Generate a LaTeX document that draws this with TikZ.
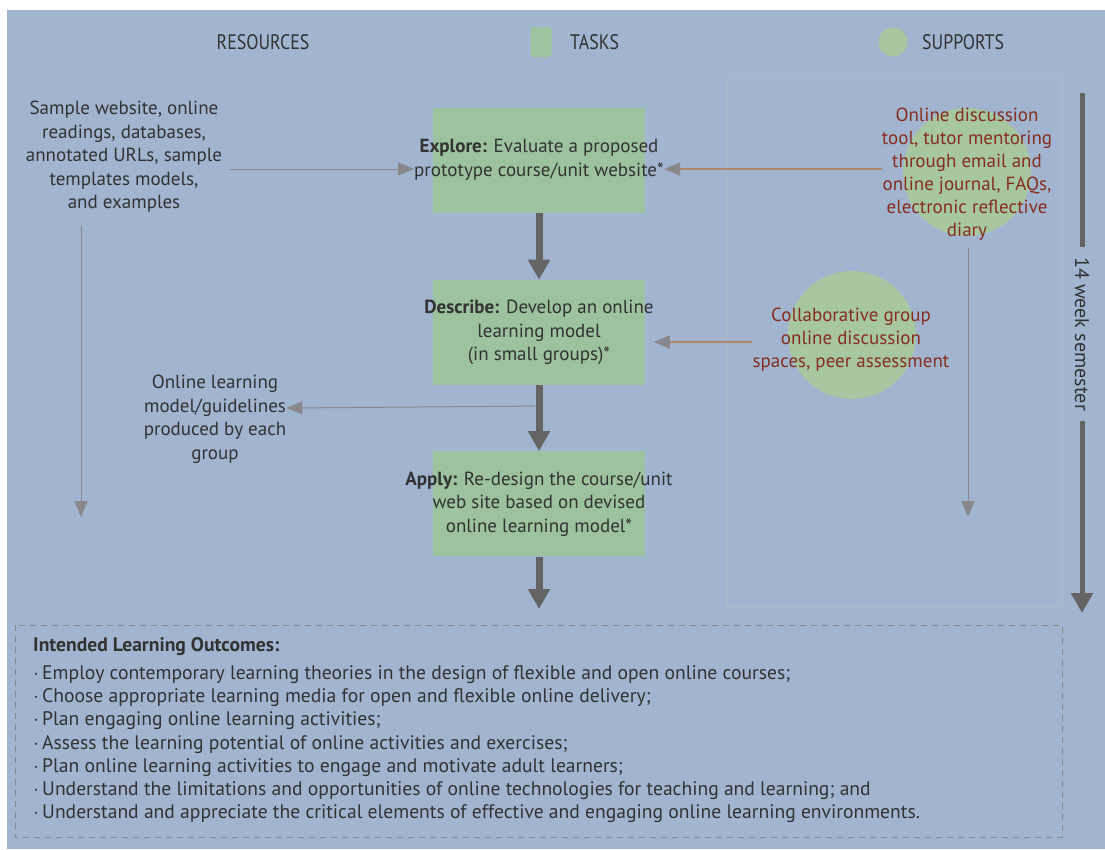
\documentclass[tikz,border=0pt]{standalone}
\usepackage{fontspec}
\setmainfont{PT Sans}
\newfontfamily\narrowfont[FakeStretch=0.85]{PT Sans}
\usetikzlibrary{positioning}
\usetikzlibrary{arrows.meta}
\usetikzlibrary{shapes}

\definecolor{bgblue}{RGB}{161,181,208}
\definecolor{taskgreen}{RGB}{157,195,158}
\definecolor{supgreen}{RGB}{166,199,160}
\definecolor{textdark}{RGB}{50,50,50}
\definecolor{suptext}{RGB}{135,45,30}
\definecolor{arrowdark}{RGB}{100,100,100}
\definecolor{arrowgray}{RGB}{135,135,140}
\definecolor{suparrow}{RGB}{175,135,110}
\definecolor{panelline}{RGB}{168,183,204}

\begin{document}
\begin{tikzpicture}[x=1pt,y=-1pt,
        txt/.style = {align=center,text=textdark,inner sep=0pt,
            font=\fontsize{19}{23.5}\selectfont},
        head/.style = {text=textdark,inner sep=0pt,
            font=\narrowfont\fontsize{21}{24}\selectfont},
        task/.style = {fill=taskgreen,minimum width=212pt,minimum height=105pt,
            inner sep=0pt},
        support/.style = {circle,fill=supgreen,minimum size=128pt,inner sep=0pt},
        suptxt/.style = {align=center,text=suptext,inner sep=0pt,
            font=\fontsize{19}{23}\selectfont},
        ilotxt/.style = {anchor=north west,align=left,text=textdark,inner sep=0pt,
            font=\fontsize{19.6}{23.3}\selectfont},
        flow/.style = {color=arrowdark,line width=7pt,
            -{Triangle[length=20pt,width=21pt]}},
        feed/.style = {color=arrowgray,line width=1pt,
            -{Triangle[length=16pt,width=13pt]}},
        supfeed/.style = {draw=suparrow,line width=1.2pt,
            -{Triangle[length=16pt,width=13pt,color=arrowgray]}}]
    \useasboundingbox (0,0) rectangle (1105,849);
    % background and frames
    \fill[bgblue] (7,10) rectangle (1105,849);
    \draw[panelline,line width=2.5pt] (727,78) rectangle (1062,607);
    \draw[arrowgray,line width=0.8pt,dash pattern=on 6pt off 5pt]
        (15,625) rectangle (1062,837);

    % header
    \node[head] (hres) at (263,42) {RESOURCES};
    \node[fill=taskgreen,rounded corners=3pt,minimum width=21pt,
        minimum height=30pt,inner sep=0pt] (ktask) at (541,42) {};
    \node[head,anchor=west] (htask) at (570,42) {TASKS};
    \node[circle,fill=supgreen,minimum size=29pt,inner sep=0pt] (ksup) at (893,42) {};
    \node[head,anchor=west] (hsup) at (922,42) {SUPPORTS};

    % tasks
    \node[task] (explore) at (539,160) {};
    \node[txt] (exploretxt) at (explore) {\textbf{Explore:} Evaluate a proposed\\
        prototype course/unit website*};
    \node[task,below=67pt of explore] (describe) {};
    \node[txt] (describetxt) at (describe) {\textbf{Describe:} Develop an online\\
        learning model\\ (in small groups)*};
    \node[task,below=66pt of describe] (apply) {};
    \node[txt] (applytxt) at (apply) {\textbf{Apply:} Re-design the course/unit\\
        web site based on devised\\ online learning model*};
    \coordinate (applyout) at (539,609);

    % resources
    \node[txt] (res) at (124,157) {Sample website, online\\ readings, databases,\\
        annotated URLs, sample\\ templates models,\\ and examples};
    \coordinate (resend) at (81,517);
    \node[txt] (model) at (215,419) {Online learning\\ model/guidelines\\
        produced by each\\ group};

    % supports
    \node[support] (sup1) at (967,172) {};
    \node[suptxt] (sup1txt) at (967,174) {Online discussion\\ tool, tutor mentoring\\
        through email and\\ online journal, FAQs,\\ electronic reflective\\ diary};
    \coordinate (supend) at (968,517);
    \node[support] (sup2) at (852,335) {};
    \node[suptxt] (sup2txt) at (851,340) {Collaborative group\\ online discussion\\
        spaces, peer assessment};

    % semester
    \node[txt,rotate=-90,font=\fontsize{20}{24}\selectfont] (sem) at (1082,334)
        {14 week semester};
    \coordinate (semtop) at (1082,93);
    \coordinate (semend) at (1082,613);

    % connectors
    \path[flow]
        (explore) edge (describe)
        (describe) edge (apply)
        (apply) edge (applyout);
    \draw[feed] (230,169) -- (exploretxt.west |- 0,169);
    \draw[feed] (res.south -| resend) ++(0,12) -- (resend);
    \draw[feed] (describe.south -| 535,0) ++(0,21) -- (model.east |- 0,408);
    \draw[supfeed] (sup1txt.west |- 0,169) -- (exploretxt.east |- 0,169);
    \draw[supfeed] (sup2txt.west |- 0,342) -- (describetxt.east |- 0,342);
    \draw[feed] (sup1txt.south -| supend) ++(0,8) -- (supend);
    \draw[color=arrowdark,line width=5pt] (semtop) -- ([yshift=10pt]sem.west);
    \draw[flow,line width=5pt] ([yshift=-10pt]sem.east) -- (semend);

    % outcomes
    \node[ilotxt] (ilohead) at (33,637) {\textbf{Intended Learning Outcomes:}};
    \node[ilotxt] (ilo) at (33,665)
        {$\cdot$\,Employ contemporary learning theories in the design of flexible and open online courses;\\
        $\cdot$\,Choose appropriate learning media for open and flexible online delivery;\\
        $\cdot$\,Plan engaging online learning activities;\\
        $\cdot$\,Assess the learning potential of online activities and exercises;\\
        $\cdot$\,Plan online learning activities to engage and motivate adult learners;\\
        $\cdot$\,Understand the limitations and opportunities of online technologies for teaching and learning; and\\
        $\cdot$\,Understand and appreciate the critical elements of effective and engaging online learning environments.};
\end{tikzpicture}
\end{document}
